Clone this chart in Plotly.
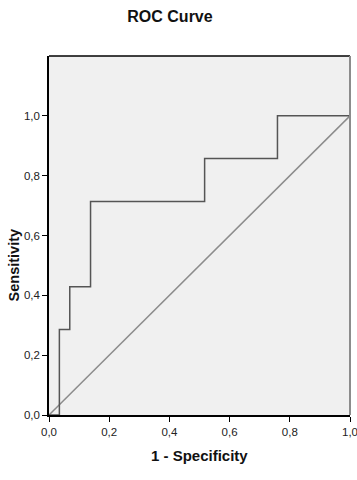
import plotly.graph_objects as go

# ROC curve step points (1 - specificity, sensitivity)
fpr = [0.0, 0.0345, 0.069, 0.138, 0.517, 0.759, 1.0]
tpr = [0.0, 0.286, 0.429, 0.714, 0.857, 1.0, 1.0]

ref_x = [0.0, 1.0]
ref_y = [0.0, 1.0]

tick_vals = [0.0, 0.2, 0.4, 0.6, 0.8, 1.0]
tick_text = ["0,0", "0,2", "0,4", "0,6", "0,8", "1,0"]

FONT = "Liberation Sans, Arial, sans-serif"

fig = go.Figure()
fig.add_trace(go.Scatter(x=ref_x, y=ref_y, mode="lines",
                         line=dict(color="#8c8c8c", width=1.5),
                         hoverinfo="skip", showlegend=False))
fig.add_trace(go.Scatter(x=fpr, y=tpr, mode="lines", line_shape="hv",
                         line=dict(color="#555555", width=1.5),
                         showlegend=False))

fig.update_layout(
    width=357, height=480,
    margin=dict(l=49, r=7, t=56, b=65, autoexpand=False),
    paper_bgcolor="white",
    plot_bgcolor="#f0f0f0",
    font=dict(family=FONT, size=11.5, color="#222222"),
    title=dict(text="<b>ROC Curve</b>", x=170 / 357, xref="container", xanchor="center",
               y=1 - 16 / 480, yanchor="middle",
               font=dict(family=FONT, size=16, color="#111111")),
    showlegend=False,
)
fig.update_xaxes(range=[0, 1], tickvals=tick_vals, ticktext=tick_text,
                 ticks="outside", ticklen=5, tickcolor="#000000",
                 showline=True, linecolor="#000000", linewidth=1.5,
                 showgrid=False, zeroline=False, fixedrange=True,
                 automargin=False, ticklabeloverflow="allow")
fig.update_yaxes(range=[0, 1.2], tickvals=tick_vals, ticktext=tick_text,
                 ticks="outside", ticklen=5, tickcolor="#000000",
                 showline=True, linecolor="#000000", linewidth=1.5,
                 showgrid=False, zeroline=False, fixedrange=True,
                 automargin=False, ticklabeloverflow="allow")

# frame: top black, right gray
fig.add_shape(type="line", xref="paper", yref="paper", x0=0, x1=1, y0=1, y1=1,
              line=dict(color="#000000", width=1.5))
fig.add_shape(type="line", xref="paper", yref="paper", x0=1, x1=1, y0=0, y1=1,
              line=dict(color="#8c8c8c", width=2))

fig.add_annotation(text="<b>1 - Specificity</b>", xref="paper", yref="paper",
                   x=0.5, y=-40 / 359, xanchor="center", yanchor="middle",
                   showarrow=False, font=dict(family=FONT, size=15, color="#111111"))
fig.add_annotation(text="<b>Sensitivity</b>", xref="paper", yref="y",
                   x=-35 / 301, y=0.5, xanchor="center", yanchor="middle",
                   textangle=-90, showarrow=False,
                   font=dict(family=FONT, size=14.5, color="#111111"))

fig.write_html("out.html", post_script="document.body.style.margin='0';",
               config={"displayModeBar": False})
